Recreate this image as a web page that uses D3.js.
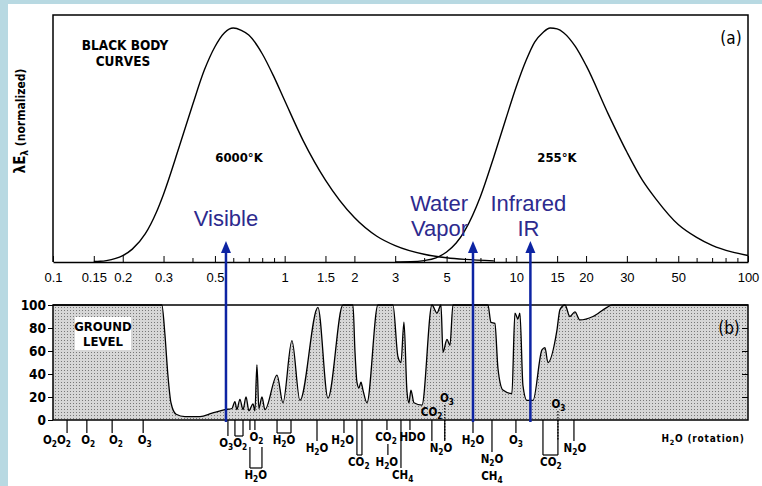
<!DOCTYPE html>
<meta charset="utf-8">
<style>
	body { margin: 0; background: #b8d9e2; }
	svg text { font-family: "Liberation Sans Narrow", "DejaVu Sans Condensed", "Liberation Sans", sans-serif; }
	.tick-label text { font-family: "Liberation Sans", Arial, sans-serif; font-size: 13px; }
	.blue-label { font-family: "Liberation Sans", Arial, sans-serif !important; font-size: 22px; fill: #2d2a8e; }
</style>
<div id="vis"></div>
<script src="https://d3js.org/d3.v7.min.js"></script>
<script>

	// ---- Data ---- //

	// wavelength axis (micrometres)
	const tickValues = [0.1, 0.15, 0.2, 0.3, 0.5, 1, 1.5, 2, 3, 5, 10, 15, 20, 30, 50, 100];
	const tickLabels = ["0.1", "0.15", "0.2", "0.3", "0.5", "1", "1.5", "2", "3", "5", "10", "15", "20", "30", "50", "100"];
	const minorTicks = [0.4, 0.6, 0.7, 0.8, 0.9, 4, 6, 7, 8, 9, 40, 60, 70, 80, 90];
	const absTicks = [0, 20, 40, 60, 80, 100];

	// black body curves, normalised
	const sunLambda = [0.15, 0.16, 0.17, 0.2, 0.22, 0.25, 0.28, 0.3, 0.35, 0.4, 0.45, 0.5, 0.55, 0.6, 0.65, 0.7, 0.8, 0.9, 1.0, 1.2, 1.5, 2, 2.5, 3, 4, 5, 6, 8];
	const sunValue = [0.002, 0.003, 0.006, 0.027, 0.055, 0.12, 0.215, 0.29, 0.49, 0.67, 0.82, 0.92, 0.98, 1.0, 0.99, 0.97, 0.89, 0.79, 0.69, 0.52, 0.35, 0.19, 0.11, 0.07, 0.033, 0.018, 0.011, 0.005];

	const earthLambda = [3, 3.5, 4, 4.5, 5, 5.5, 6, 7, 8, 9, 10, 11, 12, 13, 14, 15, 16, 18, 20, 25, 30, 35, 40, 50, 60, 70, 85, 100];
	const earthValue = [0.0002, 0.001, 0.006, 0.018, 0.043, 0.081, 0.135, 0.28, 0.45, 0.61, 0.75, 0.86, 0.94, 0.98, 1.0, 0.996, 0.98, 0.92, 0.84, 0.63, 0.47, 0.35, 0.27, 0.16, 0.105, 0.071, 0.043, 0.028];

	// absorption at ground level (%)
	const absLambda = [0.1, 0.295, 0.304, 0.313, 0.323, 0.34, 0.371, 0.431, 0.486, 0.552, 0.592, 0.61, 0.622, 0.641, 0.661, 0.681, 0.701, 0.73, 0.744, 0.759, 0.774, 0.798, 0.822, 0.927, 0.983, 1.075, 1.164, 1.392, 1.538, 1.784, 1.971, 2.011, 2.051, 2.093, 2.135, 2.178, 2.266, 2.527, 2.934, 3.083, 3.177, 3.273, 3.372, 3.439, 3.508, 3.614, 3.914, 4.323, 4.544, 4.728, 4.823, 5.019, 5.17, 5.326, 7.54, 7.77, 8.08, 8.33, 8.75, 9.57, 9.86, 10.16, 10.36, 10.68, 11.11, 11.8, 12.9, 13.29, 13.69, 14.97, 15.43, 16.22, 17.03, 17.9, 18.81, 21.41, 24.61, 25.86, 100];
	const absPercent = [100, 100, 75, 40, 15, 5, 3, 3, 6, 9, 10, 16, 9, 18, 9, 20, 8, 14, 8, 48, 10, 20, 9, 39, 15, 69, 17, 98, 19, 100, 100, 60, 33, 28, 33, 26, 15, 100, 100, 55, 50, 85, 25, 15, 26, 15, 13, 100, 93, 100, 59, 70, 65, 100, 100, 85, 84, 45, 26, 23, 93, 88, 93, 30, 17, 17, 61, 63, 50, 78, 96, 100, 90, 94, 87, 90, 98, 100, 100];

	// absorbing gases under the lower panel
	const absorbers = [
		{ text: "O_2O_2", lam: 0.104, row: "r1", leaders: [0.115] },
		{ text: "O_2", lam: 0.142, row: "r1", leaders: [0.14] },
		{ text: "O_2", lam: 0.187, row: "r1", leaders: [0.18] },
		{ text: "O_3", lam: 0.249, row: "r1", leaders: [0.245] },
		{ text: "O_3O_2", lam: 0.6, row: "r1b" },
		{ text: "", lam: 0.569, row: "r1b", leaders: [0.569] },
		{ text: "", lam: 0.64, row: "r1b", leaders: [0.61, 0.661], bracket: true },
		{ text: "O_2", lam: 0.755, row: "r0", leaders: [0.708, 0.744] },
		{ text: "H_2O", lam: 0.75, row: "r4", leaders: [0.708, 0.798], bracket: true, from: "r1" },
		{ text: "H_2O", lam: 0.993, row: "r1", leaders: [0.927, 1.065], bracket: true },
		{ text: "H_2O", lam: 1.379, row: "r2", leaders: [1.379] },
		{ text: "H_2O", lam: 1.78, row: "r1", leaders: [1.803] },
		{ text: "CO_2", lam: 2.09, row: "r3", leaders: [2.051, 2.156], bracket: true },
		{ text: "CO_2", lam: 2.74, row: "r0", leaders: [2.764] },
		{ text: "HDO", lam: 3.56, row: "r0", leaders: [3.474] },
		{ text: "H_2O", lam: 2.76, row: "r3", leaders: [2.79], from: "r0" },
		{ text: "CH_4", lam: 3.23, row: "r4", leaders: [3.177] },
		{ text: "N_2O", lam: 4.73, row: "r2", leaders: [4.32, 4.91] },
		{ text: "CO_2", lam: 4.31, row: "i2" },
		{ text: "O_3", lam: 5.02, row: "i1", dotted: [4.91] },
		{ text: "H_2O", lam: 6.5, row: "r1", leaders: [6.5] },
		{ text: "N_2O", lam: 7.85, row: "r2b", leaders: [7.85] },
		{ text: "CH_4", lam: 7.85, row: "r5" },
		{ text: "O_3", lam: 9.96, row: "r1", leaders: [9.96] },
		{ text: "CO_2", lam: 14.1, row: "r3", leaders: [13.03, 15.12], bracket: true },
		{ text: "O_3", lam: 15.2, row: "i1b", dotted: [15.12] },
		{ text: "N_2O", lam: 17.9, row: "r2", leaders: [17.73] }
	];

	// blue annotations
	const arrowLambda = [0.558, 6.5, 11.5];
	const blueLabels = [
		{ lines: ["Visible"], lam: 0.558, anchor: "middle", dx: 0 },
		{ lines: ["Water", "Vapor"], lam: 6.5, anchor: "end", dx: -5 },
		{ lines: ["Infrared", "IR"], lam: 11.5, anchor: "middle", dx: -2 }
	];

	// ---- Setup ---- //

	const W = 762, H = 486;
	const svg = d3.select("#vis").append("svg").attr("width", W).attr("height", H);
	svg.append("rect").attr("x", 8).attr("y", 4).attr("width", W - 8).attr("height", H - 4).attr("fill", "#fff");

	const x = d3.scaleLog().domain([0.1, 100]).range([53, 748]);
	const yTop = d3.scaleLinear().domain([0, 1]).range([262, 28]);
	const yBot = d3.scaleLinear().domain([0, 100]).range([420, 305]);

	const rows = { i1: 402, i1b: 408, i2: 416, r0: 441, r1: 444, r1b: 447, r2: 452, r2b: 463, r3: 466, r4: 479, r5: 480 };

	// stipple for the absorption area
	const pat = svg.append("defs").append("pattern")
		.attr("id", "stipple").attr("width", 3).attr("height", 3)
		.attr("patternUnits", "userSpaceOnUse");
	pat.append("rect").attr("width", 3).attr("height", 3).attr("fill", "#d6d6d6");
	pat.append("rect").attr("x", 1).attr("y", 1).attr("width", 1).attr("height", 1).attr("fill", "#777");

	function formula(sel, str) {
		let shifted = false;
		str.split(/(_\d)/).filter(s => s).forEach(p => {
			const sub = p[0] === "_";
			const t = sel.append("tspan").text(sub ? p.slice(1) : p);
			if (sub) { t.attr("dy", 3).attr("font-size", "0.72em"); shifted = true; }
			else if (shifted) { t.attr("dy", -3); shifted = false; }
		});
	}

	// ---- Top panel (a) ---- //

	svg.append("path")
		.attr("d", `M${x(0.1)},262V15H${x(100)}V262`)
		.attr("fill", "none").attr("stroke", "#000").attr("stroke-width", 1.5);

	const xAxis = d3.axisBottom(x).tickValues(tickValues)
		.tickFormat((d, i) => tickLabels[i]).tickSize(-6).tickSizeOuter(0).tickPadding(11);
	svg.append("g").attr("class", "tick-label")
		.attr("transform", "translate(0,262)")
		.call(xAxis)
		.call(g => g.select(".domain").attr("stroke-width", 1.5));
	svg.append("g")
		.attr("transform", "translate(0,262)")
		.call(d3.axisBottom(x).tickValues(minorTicks).tickFormat("").tickSize(-4).tickSizeOuter(0))
		.call(g => g.select(".domain").remove());

	const bbLine = d3.line().x(d => x(d[0])).y(d => yTop(d[1])).curve(d3.curveMonotoneX);
	[[sunLambda, sunValue], [earthLambda, earthValue]].forEach(([l, v]) => {
		svg.append("path")
			.datum(l.map((d, i) => [d, v[i]]))
			.attr("d", bbLine)
			.attr("fill", "none").attr("stroke", "#000").attr("stroke-width", 1.4);
	});

	svg.append("text").attr("x", 125).attr("y", 50).attr("text-anchor", "middle")
		.attr("font-size", 13.5).attr("font-weight", 700).text("BLACK BODY");
	svg.append("text").attr("x", 123).attr("y", 66).attr("text-anchor", "middle")
		.attr("font-size", 13.5).attr("font-weight", 700).text("CURVES");
	svg.append("text").attr("x", 239).attr("y", 162).attr("text-anchor", "middle")
		.attr("font-size", 13).attr("font-weight", 700).text("6000°K");
	svg.append("text").attr("x", 557).attr("y", 162).attr("text-anchor", "middle")
		.attr("font-size", 13).attr("font-weight", 700).text("255°K");
	svg.append("text").attr("x", 731).attr("y", 44).attr("text-anchor", "middle")
		.attr("font-size", 17).text("(a)");

	// y label
	const yl = svg.append("text")
		.attr("transform", "translate(25,121) rotate(-90)")
		.attr("text-anchor", "middle").attr("font-weight", 700);
	yl.append("tspan").attr("font-size", 15).text("λE");
	yl.append("tspan").attr("font-size", 10).attr("dy", 3).text("λ");
	yl.append("tspan").attr("font-size", 12).attr("dy", -3).text("  (normalized)");

	// ---- Bottom panel (b) ---- //

	const absData = absLambda.map((d, i) => [d, absPercent[i]]);
	svg.append("path").datum(absData)
		.attr("d", d3.area().x(d => x(d[0])).y0(yBot(0)).y1(d => yBot(d[1])).curve(d3.curveMonotoneX))
		.attr("fill", "url(#stipple)");
	svg.append("path").datum(absData)
		.attr("d", d3.line().x(d => x(d[0])).y(d => yBot(d[1])).curve(d3.curveMonotoneX))
		.attr("fill", "none").attr("stroke", "#000").attr("stroke-width", 1.3);

	svg.append("rect")
		.attr("x", x(0.1)).attr("y", yBot(100))
		.attr("width", x(100) - x(0.1)).attr("height", yBot(0) - yBot(100))
		.attr("fill", "none").attr("stroke", "#000").attr("stroke-width", 1.5);

	svg.append("g")
		.attr("transform", `translate(${x(0.1)},0)`)
		.call(d3.axisLeft(yBot).tickValues(absTicks).tickSize(5).tickPadding(2).tickSizeOuter(0))
		.call(g => g.select(".domain").remove())
		.call(g => g.selectAll("text").attr("font-size", 13.5).attr("font-weight", 700)
			.style("font-family", "'Liberation Sans Narrow','DejaVu Sans Condensed',sans-serif"));
	svg.append("g")
		.attr("transform", `translate(${x(100)},0)`)
		.call(d3.axisRight(yBot).tickValues([20, 40, 60, 80]).tickSize(-6).tickFormat(""))
		.call(g => g.select(".domain").remove());

	// GROUND LEVEL box
	svg.append("rect").attr("x", 75).attr("y", 317).attr("width", 56).attr("height", 33).attr("fill", "#fff");
	svg.append("text").attr("x", 103).attr("y", 331).attr("text-anchor", "middle")
		.attr("font-size", 13).attr("font-weight", 700).text("GROUND");
	svg.append("text").attr("x", 103).attr("y", 346).attr("text-anchor", "middle")
		.attr("font-size", 13).attr("font-weight", 700).text("LEVEL");
	svg.append("text").attr("x", 729).attr("y", 334).attr("text-anchor", "middle")
		.attr("font-size", 17).attr("fill", "#000").text("(b)");

	// absorber leaders and labels
	const ann = svg.append("g").attr("stroke", "#000").attr("stroke-width", 1.2);
	absorbers.forEach(a => {
		const y = rows[a.row];
		if (a.leaders) {
			const y0 = a.from ? rows[a.from] + 3 : yBot(0);
			const y1 = y - 11;
			a.leaders.forEach(l => ann.append("line")
				.attr("x1", x(l)).attr("x2", x(l)).attr("y1", y0).attr("y2", y1));
			if (a.bracket) ann.append("line")
				.attr("x1", x(a.leaders[0])).attr("x2", x(a.leaders[a.leaders.length - 1]))
				.attr("y1", y1).attr("y2", y1);
		}
		if (a.dotted) a.dotted.forEach(l => ann.append("line")
			.attr("x1", x(l)).attr("x2", x(l)).attr("y1", y + 3).attr("y2", 440)
			.attr("stroke-dasharray", "1.5,1.5"));
		if (!a.text) return;
		const t = svg.append("text").attr("x", x(a.lam)).attr("y", y)
			.attr("text-anchor", "middle").attr("font-size", 11.5).attr("font-weight", 700);
		formula(t, a.text);
	});
	svg.append("text").attr("x", 703).attr("y", 442).attr("text-anchor", "middle")
		.attr("font-size", 10).attr("font-weight", 700).attr("letter-spacing", 0.8)
		.call(t => formula(t, "H_2O (rotation)"));

	// ---- Blue arrows and labels ---- //

	svg.selectAll(".arrow-line").data(arrowLambda).enter().append("line")
		.attr("x1", d => x(d)).attr("x2", d => x(d))
		.attr("y1", yBot(0) + 2).attr("y2", 250)
		.attr("stroke", "#0d24a3").attr("stroke-width", 2.5);
	svg.selectAll(".arrow-head").data(arrowLambda).enter().append("path")
		.attr("d", d => `M${x(d) - 5},253L${x(d)},241L${x(d) + 5},253Z`)
		.attr("fill", "#0d24a3");

	blueLabels.forEach(b => {
		b.lines.forEach((s, i) => {
			svg.append("text").attr("class", "blue-label")
				.attr("x", x(b.lam) + b.dx).attr("y", (b.lines.length === 1 ? 226 : 211) + i * 25)
				.attr("text-anchor", b.anchor).text(s);
		});
	});
</script>
